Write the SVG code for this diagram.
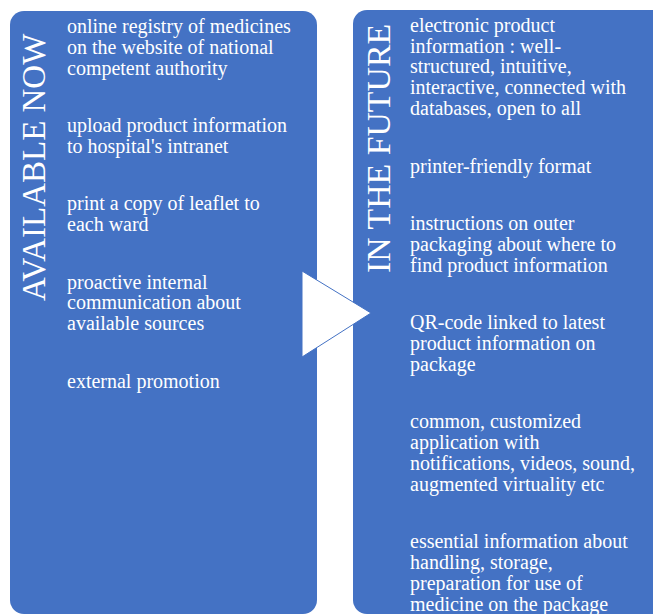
<svg xmlns="http://www.w3.org/2000/svg" width="653" height="615" viewBox="0 0 653 615">
<style>
.box{fill:#4472C4}
.t{font-family:"Liberation Serif","Times New Roman",serif;font-size:20px;fill:#ffffff}
.h{font-family:"Liberation Serif","Times New Roman",serif;font-size:33px;fill:#ffffff}
</style>
<rect width="653" height="615" fill="#ffffff"/>
<g id="available-now">
<rect class="box" x="10" y="11" width="307" height="603" rx="14" ry="14"/>
<text class="h" transform="translate(45,301) rotate(-90)">AVAILABLE NOW</text>
<text class="t"><tspan x="67" y="33">online registry of medicines</tspan><tspan x="67" y="54">on the website of national</tspan><tspan x="67" y="75">competent authority</tspan></text>
<text class="t"><tspan x="67" y="132">upload product information</tspan><tspan x="67" y="153">to hospital's intranet</tspan></text>
<text class="t"><tspan x="67" y="210">print a copy of leaflet to</tspan><tspan x="67" y="231">each ward</tspan></text>
<text class="t"><tspan x="67" y="289">proactive internal</tspan><tspan x="67" y="309">communication about</tspan><tspan x="67" y="330">available sources</tspan></text>
<text class="t"><tspan x="67" y="388">external promotion</tspan></text>
</g>
<g id="in-the-future">
<rect class="box" x="353" y="10" width="320" height="604" rx="14" ry="14"/>
<text class="h" style="font-size:33.8px" transform="translate(390,273) rotate(-90)">IN THE FUTURE</text>
<text class="t"><tspan x="410" y="32">electronic product</tspan><tspan x="410" y="53">information : well-</tspan><tspan x="410" y="73">structured, intuitive,</tspan><tspan x="410" y="94">interactive, connected with</tspan><tspan x="410" y="115">databases, open to all</tspan></text>
<text class="t"><tspan x="410" y="173">printer-friendly format</tspan></text>
<text class="t"><tspan x="410" y="230">instructions on outer</tspan><tspan x="410" y="251">packaging about where to</tspan><tspan x="410" y="272">find product information</tspan></text>
<text class="t"><tspan x="410" y="329">QR-code linked to latest</tspan><tspan x="410" y="350">product information on</tspan><tspan x="410" y="371">package</tspan></text>
<text class="t"><tspan x="410" y="428">common, customized</tspan><tspan x="410" y="449">application with</tspan><tspan x="410" y="470">notifications, videos, sound,</tspan><tspan x="410" y="491">augmented virtuality etc</tspan></text>
<text class="t"><tspan x="410" y="548">essential information about</tspan><tspan x="410" y="569">handling, storage,</tspan><tspan x="410" y="590">preparation for use of</tspan><tspan x="410" y="611">medicine on the package</tspan></text>
</g>
<g id="connectors">
<polygon points="302,271 371,313 302,357" fill="#ffffff" stroke="#4472C4" stroke-width="1"/>
</g>
</svg>
